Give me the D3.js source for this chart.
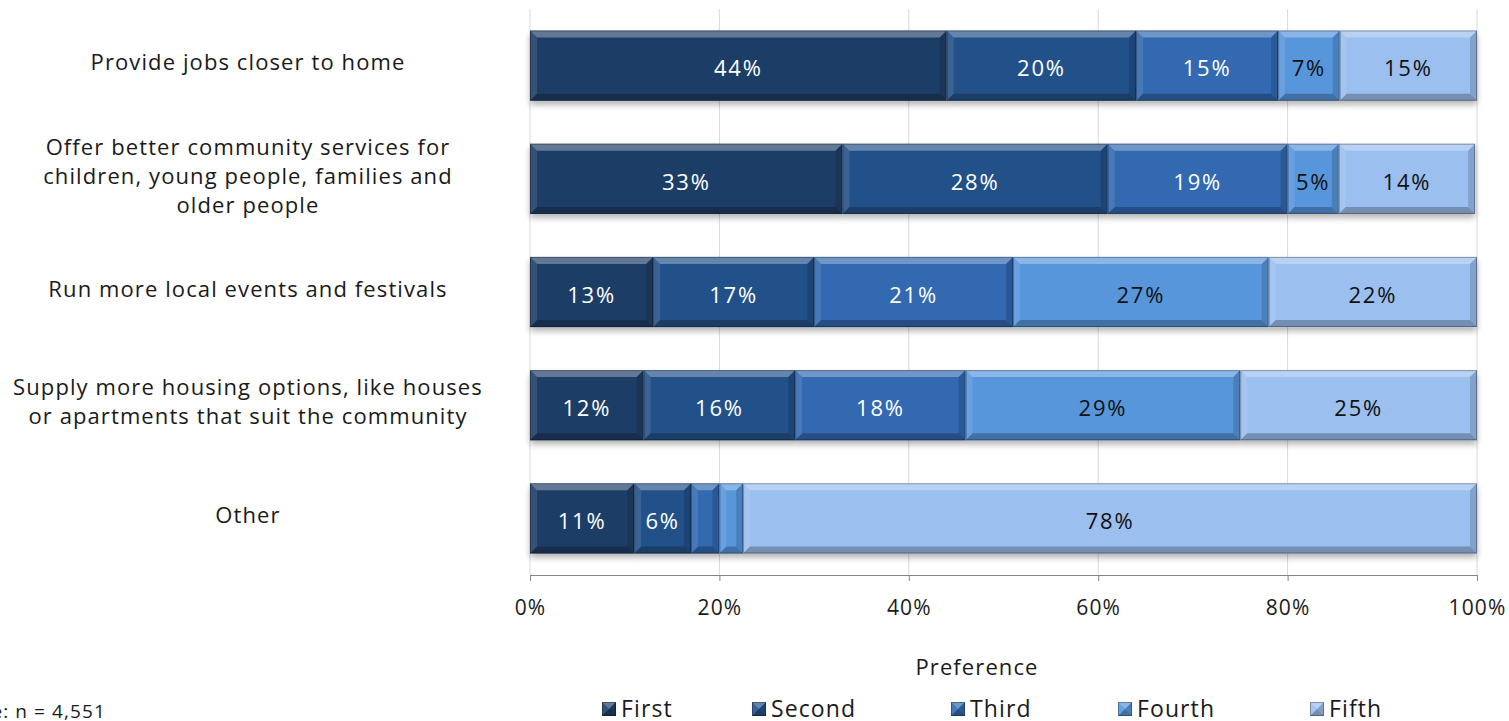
<!DOCTYPE html>
<html>
<head>
<meta charset="utf-8">
<script src="https://cdn.jsdelivr.net/npm/d3@7"></script>
<style>
  body { margin: 0; background: #fff; }
  svg { display: block; font-family: "Open Sans", sans-serif; letter-spacing: 1.1px; }
</style>
</head>
<body>
<svg id="chart" width="1509" height="721"></svg>
<script>
var categories = [
  "Provide jobs closer to home",
  "Offer better community services for|children, young people, families and|older people",
  "Run more local events and festivals",
  "Supply more housing options, like houses|or apartments that suit the community",
  "Other"
];
var seriesNames = ["First", "Second", "Third", "Fourth", "Fifth"];
var first  = [44, 33, 13, 12, 11];
var second = [20, 28, 17, 16, 6];
var third  = [15, 19, 21, 18, 3];
var fourth = [6.5, 5.4, 27, 29, 2.5];
var fifth  = [14.5, 14.4, 22, 25, 77.5];
var xTicks = [0, 20, 40, 60, 80, 100];
var colors = ["#1f3e66", "#245189", "#3369b1", "#5896dc", "#9bbfee"];
var labelColors = ["#fff", "#fff", "#fff", "#111", "#111"];

var svg = d3.select("#chart");
var plotLeft = 530, plotRight = 1477, plotTop = 9, plotBottom = 575;

var x = d3.scaleLinear().domain([0, 100]).range([plotLeft, plotRight]);
var y = d3.scaleBand().domain(d3.range(categories.length)).range([plotTop, plotBottom]).paddingInner(0.38).paddingOuter(0.19);

// shadow under the bars
var defs = svg.append("defs");
var f = defs.append("filter").attr("id", "shadow").attr("x", "-5%").attr("y", "-20%").attr("width", "110%").attr("height", "160%");
f.append("feGaussianBlur").attr("in", "SourceAlpha").attr("stdDeviation", 3);
f.append("feOffset").attr("dx", 0).attr("dy", 4).attr("result", "ob");
f.append("feComponentTransfer").append("feFuncA").attr("type", "linear").attr("slope", 0.3);
var fm = f.append("feMerge");
fm.append("feMergeNode");
fm.append("feMergeNode").attr("in", "SourceGraphic");

// gridlines
svg.append("g").selectAll("line").data(xTicks).enter().append("line")
  .attr("x1", function(d){ return x(d); }).attr("x2", function(d){ return x(d); })
  .attr("y1", plotTop).attr("y2", plotBottom)
  .attr("stroke", "#d9d9d9").attr("stroke-width", 1);

// axis
var axis = svg.append("g").attr("transform", "translate(0," + plotBottom + ")")
  .call(d3.axisBottom(x).tickValues(xTicks).tickSize(6).tickPadding(19).tickFormat(function(d){ return d + "%"; }));
axis.select(".domain").attr("stroke", "#868686");
axis.selectAll(".tick line").attr("stroke", "#868686");
axis.selectAll("text").attr("font-size", 21).attr("fill", "#1a1a1a").attr("font-family", "Open Sans");

var series = [first, second, third, fourth, fifth];
var stack = categories.map(function(c, i){
  var acc = 0;
  return series.map(function(s, k){
    var r = { row: i, k: k, v: s[i], x0: acc, x1: acc + s[i] };
    acc += s[i];
    return r;
  });
});

function bevel(g, x0, y0, w, h, color) {
  var b = Math.min(7, w / 2);
  g.append("rect").attr("x", x0).attr("y", y0).attr("width", w).attr("height", h).attr("fill", color);
  g.append("polygon").attr("points", [[x0,y0],[x0+w,y0],[x0+w-b,y0+b],[x0+b,y0+b]].join(" "))
    .attr("fill", "#fff").attr("fill-opacity", 0.3);
  g.append("polygon").attr("points", [[x0,y0+h],[x0+w,y0+h],[x0+w-b,y0+h-b],[x0+b,y0+h-b]].join(" "))
    .attr("fill", "#000").attr("fill-opacity", 0.25);
  g.append("polygon").attr("points", [[x0,y0],[x0+b,y0+b],[x0+b,y0+h-b],[x0,y0+h]].join(" "))
    .attr("fill", "#fff").attr("fill-opacity", 0.1);
  g.append("polygon").attr("points", [[x0+w,y0],[x0+w-b,y0+b],[x0+w-b,y0+h-b],[x0+w,y0+h]].join(" "))
    .attr("fill", "#000").attr("fill-opacity", 0.15);
  g.append("rect").attr("x", x0 + 0.5).attr("y", y0 + 0.5).attr("width", w - 1).attr("height", h - 1)
    .attr("fill", "none").attr("stroke", "#000").attr("stroke-opacity", 0.3);
}

var rows = svg.append("g").selectAll("g").data(stack).enter().append("g").attr("filter", "url(#shadow)");
rows.each(function(segs){
  var g = d3.select(this);
  segs.forEach(function(s){
    var sx = x(s.x0), w = x(s.x1) - x(s.x0);
    bevel(g.append("g"), sx, y(s.row), w, y.bandwidth(), colors[s.k]);
  });
});

// value labels
svg.append("g").selectAll("text").data(d3.merge(stack).filter(function(s){ return x(s.x1) - x(s.x0) > 30; }))
  .enter().append("text")
  .attr("x", function(s){ return (x(s.x0) + x(s.x1)) / 2; })
  .attr("y", function(s){ return y(s.row) + y.bandwidth() / 2 + 3; })
  .attr("dy", "0.35em").attr("text-anchor", "middle")
  .attr("font-size", 22).attr("letter-spacing", "1.8px").attr("fill", function(s){ return labelColors[s.k]; })
  .text(function(s){ return Math.round(s.v) + "%"; });

// category labels
svg.append("g").selectAll("text").data(categories).enter().append("text")
  .attr("text-anchor", "middle").attr("font-size", 22).attr("fill", "#1a1a1a")
  .each(function(c, i){
    var lines = c.split("|");
    var t = d3.select(this);
    var cy = y(i) + y.bandwidth() / 2 - 3;
    lines.forEach(function(l, j){
      t.append("tspan").attr("x", 248)
        .attr("y", cy + (j - (lines.length - 1) / 2) * 29)
        .attr("dy", "0.35em").text(l);
    });
  });

// axis title
svg.append("text").attr("x", 977).attr("y", 667).attr("dy", "0.35em").attr("text-anchor", "middle")
  .attr("font-size", 22).attr("fill", "#1a1a1a").text("Preference");

// note
svg.append("text").attr("x", 106).attr("y", 711).attr("dy", "0.35em").attr("text-anchor", "end")
  .attr("font-size", 19).attr("fill", "#1a1a1a").text("Base: n = 4,551");

// legend
var legendX = [602, 752, 951, 1118, 1310];
var lg = svg.append("g").selectAll("g").data(seriesNames).enter().append("g")
  .attr("transform", function(d, i){ return "translate(" + legendX[i] + ",702)"; });
lg.each(function(d, i){ bevel(d3.select(this), 0, 0, 14, 14, colors[i]); });
lg.append("text").attr("x", 19).attr("y", 7).attr("dy", "0.35em")
  .attr("font-size", 23).attr("fill", "#1a1a1a").text(function(d){ return d; });
</script>
</body>
</html>
